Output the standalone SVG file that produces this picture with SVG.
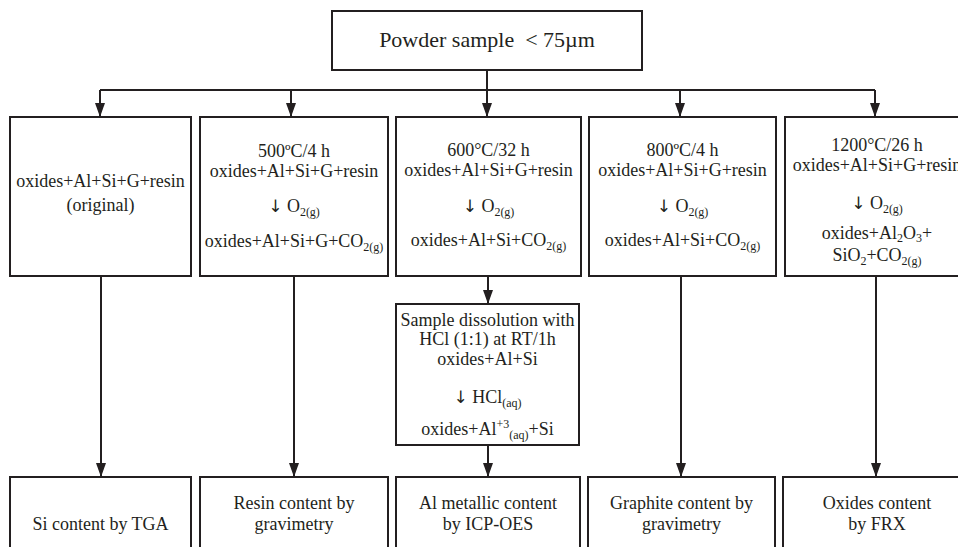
<svg xmlns="http://www.w3.org/2000/svg" width="958" height="547" viewBox="0 0 958 547">
  <defs>
    <marker id="arrow" markerUnits="userSpaceOnUse" markerWidth="14" markerHeight="10" refX="14" refY="5" orient="auto" viewBox="0 0 14 10">
      <path d="M0,0 L14,5 L0,10 Z" fill="#231f20"/>
    </marker>
    <style>
      .box { fill: #ffffff; stroke: #231f20; stroke-width: 2; }
      .t { font-family: "Liberation Serif", "Times New Roman", serif; font-size: 18px; fill: #231f20; text-anchor: middle; }
      .big { font-size: 22px; }
      .s { font-size: 12px; }
      .dn { font-family: "DejaVu Sans", sans-serif; font-size: 17px; }
      .wire { fill: none; stroke: #231f20; stroke-width: 2; }
      .arr { marker-end: url(#arrow); }
    </style>
  </defs>
  <rect width="958" height="547" fill="#ffffff"/>

  <!-- connectors -->
  <g id="connectors">
    <path class="wire" d="M100,90 H875"/>
    <line class="wire arr" x1="487" y1="70" x2="487" y2="117"/>
    <line class="wire arr" x1="100" y1="90" x2="100" y2="117"/>
    <line class="wire arr" x1="291" y1="90" x2="291" y2="117"/>
    <line class="wire arr" x1="680" y1="90" x2="680" y2="117"/>
    <line class="wire arr" x1="875" y1="90" x2="875" y2="117"/>

    <line class="wire arr" x1="101" y1="276" x2="101" y2="477"/>
    <line class="wire arr" x1="294" y1="276" x2="294" y2="477"/>
    <line class="wire arr" x1="488" y1="276" x2="488" y2="304"/>
    <line class="wire arr" x1="488" y1="445" x2="488" y2="477"/>
    <line class="wire arr" x1="681" y1="276" x2="681" y2="477"/>
    <line class="wire arr" x1="876" y1="276" x2="876" y2="477"/>
  </g>

  <!-- source -->
  <g id="powder">
    <rect class="box" x="332" y="11" width="310" height="59"/>
    <text class="t big" x="487" y="47">Powder sample&#160; &lt; 75µm</text>
  </g>

  <!-- thermal treatments -->
  <g id="original">
    <rect class="box" x="10" y="117" width="181" height="159"/>
    <text class="t" x="100.5" y="187">oxides+Al+Si+G+resin</text>
    <text class="t" x="100.5" y="211">(original)</text>
  </g>

  <g id="t500">
    <rect class="box" x="200" y="117" width="188" height="159"/>
    <text class="t" x="294" y="157">500ºC/4 h</text>
    <text class="t" x="294" y="177">oxides+Al+Si+G+resin</text>
    <text class="t" x="294" y="212"><tspan class="dn">↓</tspan> O<tspan class="s" dy="4">2(g)</tspan></text>
    <text class="t" x="294" y="247">oxides+Al+Si+G+CO<tspan class="s" dy="4">2(g)</tspan></text>
  </g>

  <g id="t600">
    <rect class="box" x="396" y="117" width="185" height="159"/>
    <text class="t" x="488.5" y="156">600°C/32 h</text>
    <text class="t" x="488.5" y="176">oxides+Al+Si+G+resin</text>
    <text class="t" x="488.5" y="212"><tspan class="dn">↓</tspan> O<tspan class="s" dy="4">2(g)</tspan></text>
    <text class="t" x="488.5" y="246">oxides+Al+Si+CO<tspan class="s" dy="4">2(g)</tspan></text>
  </g>

  <g id="t800">
    <rect class="box" x="589" y="117" width="187" height="159"/>
    <text class="t" x="682.5" y="156">800ºC/4 h</text>
    <text class="t" x="682.5" y="176">oxides+Al+Si+G+resin</text>
    <text class="t" x="682.5" y="212"><tspan class="dn">↓</tspan> O<tspan class="s" dy="4">2(g)</tspan></text>
    <text class="t" x="682.5" y="246">oxides+Al+Si+CO<tspan class="s" dy="4">2(g)</tspan></text>
  </g>

  <g id="t1200">
    <rect class="box" x="785" y="117" width="200" height="159"/>
    <text class="t" x="877" y="151">1200°C/26 h</text>
    <text class="t" x="877" y="171">oxides+Al+Si+G+resin</text>
    <text class="t" x="877" y="209"><tspan class="dn">↓</tspan> O<tspan class="s" dy="4">2(g)</tspan></text>
    <text class="t" x="877" y="239">oxides+Al<tspan class="s" dy="3">2</tspan><tspan dy="-3">O</tspan><tspan class="s" dy="3">3</tspan><tspan dy="-3">+</tspan></text>
    <text class="t" x="877" y="261">SiO<tspan class="s" dy="4">2</tspan><tspan dy="-4">+CO</tspan><tspan class="s" dy="4">2(g)</tspan></text>
  </g>

  <!-- acid dissolution -->
  <g id="dissolution">
    <rect class="box" x="396" y="304" width="183" height="141"/>
    <text class="t" x="487.5" y="326">Sample dissolution with</text>
    <text class="t" x="487.5" y="345">HCl (1:1) at RT/1h</text>
    <text class="t" x="487.5" y="365">oxides+Al+Si</text>
    <text class="t" x="487.5" y="403"><tspan class="dn">↓</tspan> HCl<tspan class="s" dy="4">(aq)</tspan></text>
    <text class="t" x="487.5" y="435">oxides+Al<tspan class="s" dy="-7">+3</tspan><tspan class="s" dy="11">(aq)</tspan><tspan dy="-4">+Si</tspan></text>
  </g>

  <!-- analytical results -->
  <g id="si-tga">
    <rect class="box" x="10" y="477" width="181" height="80"/>
    <text class="t" x="100.5" y="530">Si content by TGA</text>
  </g>
  <g id="resin-grav">
    <rect class="box" x="200" y="477" width="188" height="80"/>
    <text class="t" x="294" y="509">Resin content by</text>
    <text class="t" x="294" y="530">gravimetry</text>
  </g>
  <g id="al-icp">
    <rect class="box" x="396" y="477" width="184" height="80"/>
    <text class="t" x="488" y="509">Al metallic content</text>
    <text class="t" x="488" y="530">by ICP-OES</text>
  </g>
  <g id="graphite-grav">
    <rect class="box" x="588" y="477" width="187" height="80"/>
    <text class="t" x="681.5" y="509">Graphite content by</text>
    <text class="t" x="681.5" y="530">gravimetry</text>
  </g>
  <g id="oxides-frx">
    <rect class="box" x="783" y="477" width="200" height="80"/>
    <text class="t" x="877" y="509">Oxides content</text>
    <text class="t" x="877" y="530">by FRX</text>
  </g>
</svg>
